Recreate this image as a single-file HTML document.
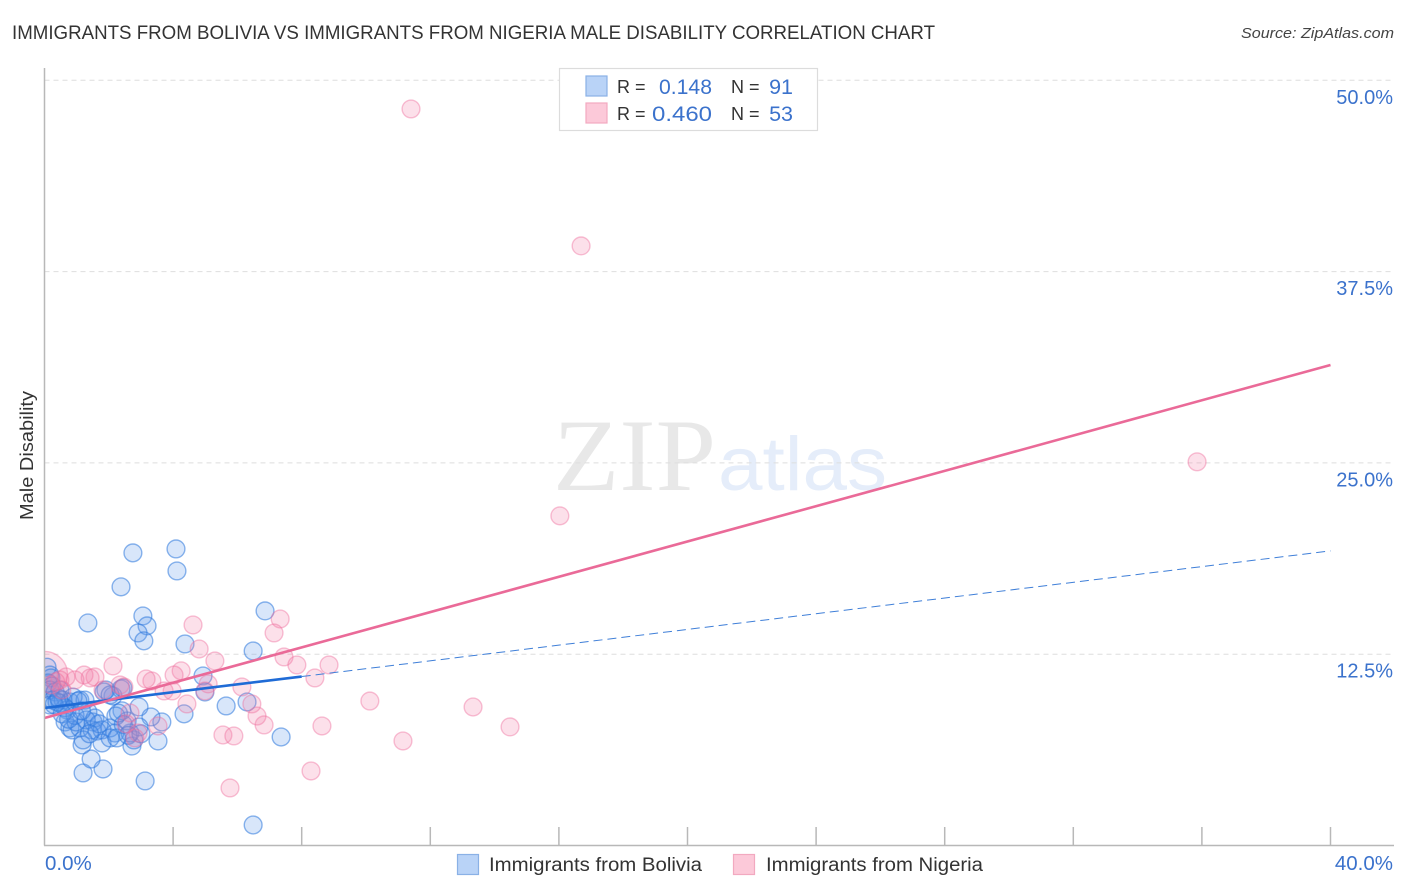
<!DOCTYPE html>
<html>
<head>
<meta charset="utf-8">
<title>Immigrants from Bolivia vs Immigrants from Nigeria Male Disability Correlation Chart</title>
<style>
html,body{margin:0;padding:0;background:#fff;}
svg{display:block;font-family:"Liberation Sans",sans-serif;}
</style>
</head>
<body>
<svg id="chart" width="1406" height="892" viewBox="0 0 1406 892" xmlns="http://www.w3.org/2000/svg">
  <defs><clipPath id="plot-clip"><rect x="44.5" y="60" width="1350" height="785"/></clipPath></defs>
  <text x="12" y="39" font-size="19" fill="#333" textLength="923" lengthAdjust="spacingAndGlyphs">IMMIGRANTS FROM BOLIVIA VS IMMIGRANTS FROM NIGERIA MALE DISABILITY CORRELATION CHART</text>
  <text x="1394" y="38" font-size="15" font-style="italic" fill="#444" text-anchor="end" textLength="153" lengthAdjust="spacingAndGlyphs">Source: ZipAtlas.com</text>
  <g>
    <text x="553" y="490" font-family="'Liberation Serif',serif" font-size="103" fill="#e8e8e8" textLength="163" lengthAdjust="spacingAndGlyphs">ZIP</text>
    <text x="718" y="490" font-size="76" fill="#e5edfa" textLength="169" lengthAdjust="spacingAndGlyphs">atlas</text>
  </g>
  <g id="grid"></g>
  <g id="points" clip-path="url(#plot-clip)"></g>
  <g id="trends"></g>
  <g id="axes">
    <line x1="44.5" y1="68" x2="44.5" y2="845.5" stroke="#b8b8b8" stroke-width="1.5"/>
    <line x1="44" y1="845.5" x2="1394" y2="845.5" stroke="#b8b8b8" stroke-width="1.5"/>
  </g>
  <g id="labels"></g>
  <text transform="translate(33,455.5) rotate(-90)" font-size="18.5" fill="#333" text-anchor="middle" textLength="129" lengthAdjust="spacingAndGlyphs">Male Disability</text>

  <g>
    <rect x="559.5" y="68.5" width="258" height="62" fill="#fff" stroke="#dcdcdc" stroke-width="1.2"/>
    <rect x="586" y="76" width="21" height="20" fill="#b9d3f7" stroke="#8ab1e6" stroke-width="1.2"/>
    <rect x="586" y="103" width="21" height="20" fill="#fcc9d9" stroke="#f2a9c0" stroke-width="1.2"/>
    <text x="617" y="93" font-size="18" fill="#333">R =</text>
    <text x="659" y="94" font-size="21.5" fill="#3b72cc" textLength="53" lengthAdjust="spacingAndGlyphs">0.148</text>
    <text x="731" y="93" font-size="18" fill="#333">N =</text>
    <text x="793" y="94" font-size="21.5" fill="#3b72cc" text-anchor="end">91</text>
    <text x="617" y="120" font-size="18" fill="#333">R =</text>
    <text x="652" y="121" font-size="21.5" fill="#3b72cc" textLength="60" lengthAdjust="spacingAndGlyphs">0.460</text>
    <text x="731" y="120" font-size="18" fill="#333">N =</text>
    <text x="793" y="121" font-size="21.5" fill="#3b72cc" text-anchor="end">53</text>
  </g>

  <g>
    <rect x="457.5" y="854.5" width="21" height="20" fill="#b9d3f7" stroke="#8ab1e6" stroke-width="1.2"/>
    <text x="489" y="871" font-size="19" fill="#333" textLength="213" lengthAdjust="spacingAndGlyphs">Immigrants from Bolivia</text>
    <rect x="733.5" y="854.5" width="21" height="20" fill="#fcc9d9" stroke="#f2a9c0" stroke-width="1.2"/>
    <text x="766" y="871" font-size="19" fill="#333" textLength="217" lengthAdjust="spacingAndGlyphs">Immigrants from Nigeria</text>
  </g>
</svg>
<script>
// Values in percent
const boliviaX = [2.75,4.09,4.12,2.38,1.35,3.06,3.19,2.91,3.09,4.37,6.86,6.49,4.93,4.99,5.65,6.30,7.36,6.49,3.13,1.20,1.82,1.45,4.34,3.65,3.31,2.94,3.53,2.72,2.78,2.66,2.94,2.57,2.41,2.13,1.91,2.38,2.22,2.19,2.04,0.08,0.17,0.20,0.11,0.23,0.17,0.33,0.48,0.26,0.48,0.17,0.58,0.79,1.10,1.26,0.70,0.89,0.64,0.79,0.86,1.10,0.98,1.51,1.48,1.35,1.57,1.63,1.79,1.17,1.20,1.79,2.04,2.25,1.85,2.44,2.04,1.04,0.64,0.39,0.30,0.45,0.95,1.30,1.70,2.45,2.60,0.55,0.75,1.15,1.40,2.30,3.00];
const boliviaY = [19.12,19.38,17.94,16.90,14.54,15.00,14.35,13.89,13.37,13.17,15.33,12.71,11.08,10.03,9.12,9.38,7.09,1.34,4.22,4.74,5.00,5.65,8.60,8.07,8.40,9.05,6.83,6.50,6.90,7.35,7.75,8.14,8.80,9.77,10.16,10.23,8.46,7.35,7.68,11.65,11.14,10.95,10.62,10.42,10.16,10.03,10.16,9.50,9.31,9.18,9.50,9.38,9.50,9.50,8.86,9.70,8.07,7.68,7.55,7.68,8.07,8.07,7.55,8.73,8.33,7.48,7.55,6.57,6.90,6.70,7.03,7.03,10.03,10.29,9.84,9.44,9.00,9.38,9.20,9.60,8.50,8.20,7.95,7.90,7.20,8.60,8.25,8.80,7.30,8.65,7.30];
const nigeriaX = [11.40,16.69,35.85,16.03,4.62,7.33,7.14,4.81,7.45,5.30,7.85,8.85,8.41,4.25,2.13,10.12,13.33,14.48,11.15,8.63,8.29,5.77,5.55,5.89,6.83,6.61,6.45,6.14,4.99,5.09,4.43,4.03,3.97,3.72,3.34,3.16,2.35,2.47,1.57,1.23,1.42,0.95,0.67,0.48,0.54,1.82,2.66,2.91,2.81,3.53,2.54,0.20,0.35];
const nigeriaY = [48.13,39.18,25.07,21.54,14.41,14.80,13.89,12.84,12.32,12.06,11.80,11.80,10.95,11.41,11.73,9.44,9.05,7.75,6.83,7.81,4.87,3.76,7.22,7.16,7.88,8.46,9.25,10.36,10.10,10.56,9.25,11.14,10.10,10.10,10.75,10.88,10.49,10.36,11.01,11.14,10.95,10.82,11.01,10.82,10.16,10.16,8.66,7.35,7.03,7.81,7.94,10.50,10.70];
// Large-sample marker at the axis origin side
const nigeriaLargeX = [0];
const nigeriaLargeY = [11.18];
const boliviaTrendX = [0, 8, 40];
const boliviaTrendY = [8.99, 11.04, 19.25];
const nigeriaTrendX = [0, 40];
const nigeriaTrendY = [8.33, 31.4];
const yTicks = [12.5, 25, 37.5, 50];
const yTickLabels = ["12.5%", "25.0%", "37.5%", "50.0%"];
const xTicks = [4, 8, 12, 16, 20, 24, 28, 32, 36, 40];
const xEndTicks = [0, 40];
const xEndLabels = ["0.0%", "40.0%"];

const NS = "http://www.w3.org/2000/svg";
const xScale = v => 44.5 + v * 32.15;
const yScale = v => 845.5 - v * 15.304;
const make = (tag, attrs, parent) => {
  const el = document.createElementNS(NS, tag);
  for (const k in attrs) el.setAttribute(k, attrs[k]);
  parent.appendChild(el);
  return el;
};
const grid = document.getElementById("grid");
const axes = document.getElementById("axes");
const labels = document.getElementById("labels");
const points = document.getElementById("points");
const trends = document.getElementById("trends");

yTicks.forEach((t, i) => {
  const line = make("line", {x1: 44.5, x2: 1394, y1: yScale(t), y2: yScale(t), stroke: "#dedede", "stroke-width": 1, "stroke-dasharray": "5 4"}, grid);
  
  
  const label = make("text", {x: 1393, y: yScale(t) + 23.5, "font-size": 20, fill: "#3b72cc", "text-anchor": "end"}, labels);
  label.textContent = yTickLabels[i];
  
  
});
xTicks.forEach(t => {
  const tick = make("line", {x1: xScale(t), x2: xScale(t), y1: 827, y2: 845.5, stroke: "#b8b8b8", "stroke-width": 1.5}, axes);
  
  
});
xEndTicks.forEach((t, i) => {
  const label = make("text", {x: i === 0 ? xScale(t) + 0.5 : 1393, y: 870, "font-size": 20.5, fill: "#3b72cc", "text-anchor": i === 0 ? "start" : "end"}, labels);
  label.textContent = xEndLabels[i];
  
  
});

const dot = (x, y, r, fill, stroke, so) => {
  const c = make("circle", {cx: xScale(x), cy: yScale(y), r: r, fill: fill, "fill-opacity": 0.24, stroke: stroke, "stroke-opacity": so, "stroke-width": 1.4}, points);
  return c;
};
nigeriaLargeX.forEach((x, i) => {
  const c = dot(x, nigeriaLargeY[i], 23, "#f06f9d", "#ee6c9a", 0.42);
  
  
});
boliviaX.forEach((x, i) => {
  const c = dot(x, boliviaY[i], 8.9, "#5a96ea", "#2e78dc", 0.55);
  
  
});
nigeriaX.forEach((x, i) => {
  const c = dot(x, nigeriaY[i], 8.9, "#f27fa8", "#ee6c9a", 0.42);
  
  
});

const boliviaSolid = make("line", {x1: xScale(boliviaTrendX[0]), y1: yScale(boliviaTrendY[0]), x2: xScale(boliviaTrendX[1]), y2: yScale(boliviaTrendY[1]), stroke: "#1f6bd6", "stroke-width": 2.6}, trends);


const boliviaDash = make("line", {x1: xScale(boliviaTrendX[1]), y1: yScale(boliviaTrendY[1]), x2: xScale(boliviaTrendX[2]), y2: yScale(boliviaTrendY[2]), stroke: "#3f7fd8", "stroke-width": 1, "stroke-dasharray": "9 5"}, trends);


const nigeriaLine = make("line", {x1: xScale(nigeriaTrendX[0]), y1: yScale(nigeriaTrendY[0]), x2: xScale(nigeriaTrendX[1]), y2: yScale(nigeriaTrendY[1]), stroke: "#ea6a98", "stroke-width": 2.6}, trends);


</script>
</body>
</html>
